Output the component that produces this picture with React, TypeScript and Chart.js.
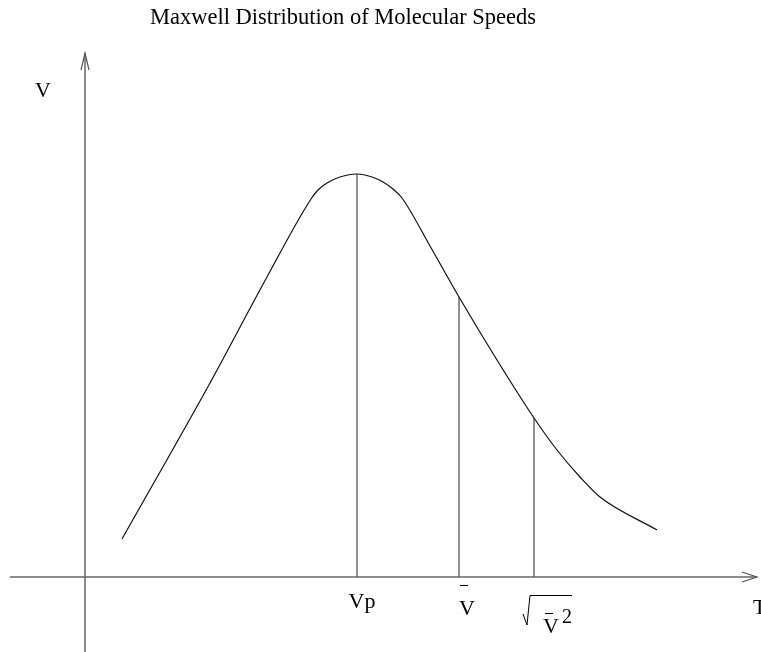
import React, { useEffect, useRef } from "react";
import { Chart, registerables } from "chart.js";
Chart.register(...registerables);

// Curve of the distribution (arbitrary units: x = speed, y = fraction)
const curveX = [0.37, 1.25, 1.82, 2.26, 2.33, 2.42, 2.55, 2.72, 2.87, 2.98, 3.08, 3.17, 3.45, 3.74, 4.12, 4.49, 4.72, 4.95, 5.15, 5.72];
const curveY = [0.38, 1.94, 3.0, 3.78, 3.87, 3.94, 4.0, 4.03, 4.0, 3.95, 3.88, 3.79, 3.31, 2.8, 2.17, 1.59, 1.27, 1.0, 0.8, 0.47];

// Characteristic speeds: most probable, mean, rms
const markerNames = ["Vp", "Vmean", "Vrms"];
const markerX = [2.72, 3.74, 4.49];
const markerY = [4.03, 2.8, 1.59];

// Axis extents
const xAxisRange = [-0.75, 6.72];
const yAxisRange = [-0.75, 5.24];

const titleText = "Maxwell Distribution of Molecular Speeds";
const yAxisLabel = "V";
const xAxisLabel = "T";

const SERIF = "'Liberation Serif', 'Times New Roman', serif";

export default function App() {
  const ref = useRef<HTMLCanvasElement | null>(null);

  useEffect(() => {
    if (!ref.current) return;

    const overlay = {
      id: "overlay",
      afterDraw(chart: any) {
        const ctx = chart.ctx as CanvasRenderingContext2D;
        const xs = chart.scales.x;
        const ys = chart.scales.y;
        const px = (v: number) => xs.getPixelForValue(v);
        const py = (v: number) => ys.getPixelForValue(v);
        ctx.save();

        // arrowheads
        ctx.strokeStyle = "#555";
        ctx.lineWidth = 1.2;
        const yTipX = px(0), yTipY = py(yAxisRange[1]);
        ctx.beginPath();
        ctx.moveTo(yTipX - 4, yTipY + 17);
        ctx.lineTo(yTipX, yTipY);
        ctx.lineTo(yTipX + 4, yTipY + 17);
        ctx.stroke();
        const xTipX = px(xAxisRange[1]), xTipY = py(0);
        ctx.beginPath();
        ctx.moveTo(xTipX - 15, xTipY - 5);
        ctx.lineTo(xTipX, xTipY);
        ctx.lineTo(xTipX - 15, xTipY + 5);
        ctx.stroke();

        ctx.fillStyle = "#000";
        ctx.textBaseline = "alphabetic";

        // title
        ctx.font = `22.5px ${SERIF}`;
        ctx.textAlign = "center";
        ctx.fillText(titleText, 343, 24);

        // axis labels
        ctx.font = `22px ${SERIF}`;
        ctx.fillText(yAxisLabel, 43, 97);
        ctx.textAlign = "left";
        ctx.fillText(xAxisLabel, xTipX - 4, 614);

        const base = py(0);
        // Vp
        ctx.textAlign = "center";
        ctx.fillText("Vp", px(markerX[0]) + 5, base + 31);

        // mean V with bar
        const mX = px(markerX[1]);
        ctx.fillText("V", mX + 8, base + 38);
        ctx.strokeStyle = "#000";
        ctx.lineWidth = 1;
        ctx.beginPath();
        ctx.moveTo(mX + 1, base + 8.5);
        ctx.lineTo(mX + 9, base + 8.5);
        ctx.stroke();

        // sqrt of mean V^2
        const rX = px(markerX[2]);
        ctx.beginPath();
        ctx.moveTo(rX - 11, base + 37);
        ctx.lineTo(rX - 7, base + 48);
        ctx.lineTo(rX - 4, base + 18.5);
        ctx.lineTo(rX + 38, base + 18.5);
        ctx.stroke();
        ctx.fillText("V", rX + 17, base + 56);
        ctx.beginPath();
        ctx.moveTo(rX + 11, base + 36.5);
        ctx.lineTo(rX + 19, base + 36.5);
        ctx.stroke();
        ctx.textAlign = "left";
        ctx.font = `20px ${SERIF}`;
        ctx.fillText("2", rX + 28, base + 46);

        ctx.restore();
      },
    };

    const curve = curveX.map((x, i) => ({ x, y: curveY[i] }));
    const markerSets = markerNames.map((name, i) => ({
      label: name,
      data: [
        { x: markerX[i], y: 0 },
        { x: markerX[i], y: markerY[i] },
      ],
      borderColor: "#222",
      borderWidth: 1,
      pointRadius: 0,
      showLine: true,
      tension: 0,
    }));

    const chart = new Chart(ref.current, {
      type: "scatter",
      data: {
        datasets: [
          {
            label: "xaxis",
            data: [
              { x: xAxisRange[0], y: 0 },
              { x: xAxisRange[1], y: 0 },
            ],
            borderColor: "#666",
            borderWidth: 1.5,
            pointRadius: 0,
            showLine: true,
          },
          {
            label: "yaxis",
            data: [
              { x: 0, y: yAxisRange[0] },
              { x: 0, y: yAxisRange[1] },
            ],
            borderColor: "#666",
            borderWidth: 1.5,
            pointRadius: 0,
            showLine: true,
          },
          ...markerSets,
          {
            label: "distribution",
            data: curve,
            borderColor: "#111",
            borderWidth: 1.2,
            pointRadius: 0,
            showLine: true,
            cubicInterpolationMode: "monotone",
          },
        ],
      },
      options: {
        animation: false,
        responsive: false,
        maintainAspectRatio: false,
        layout: { padding: 0 },
        plugins: {
          legend: { display: false },
          tooltip: { enabled: false },
          title: { display: false },
        },
        scales: {
          x: { type: "linear", min: -0.85, max: 6.76, display: false },
          y: { type: "linear", min: -0.75, max: 5.77, display: false },
        },
      },
      plugins: [overlay],
    } as any);

    return () => chart.destroy();
  }, []);

  return (
    <div style={{ position: "absolute", left: 0, top: 0, width: 761, height: 652, background: "#fff" }}>
      <canvas ref={ref} width={761} height={652} style={{ display: "block" }} />
    </div>
  );
}
